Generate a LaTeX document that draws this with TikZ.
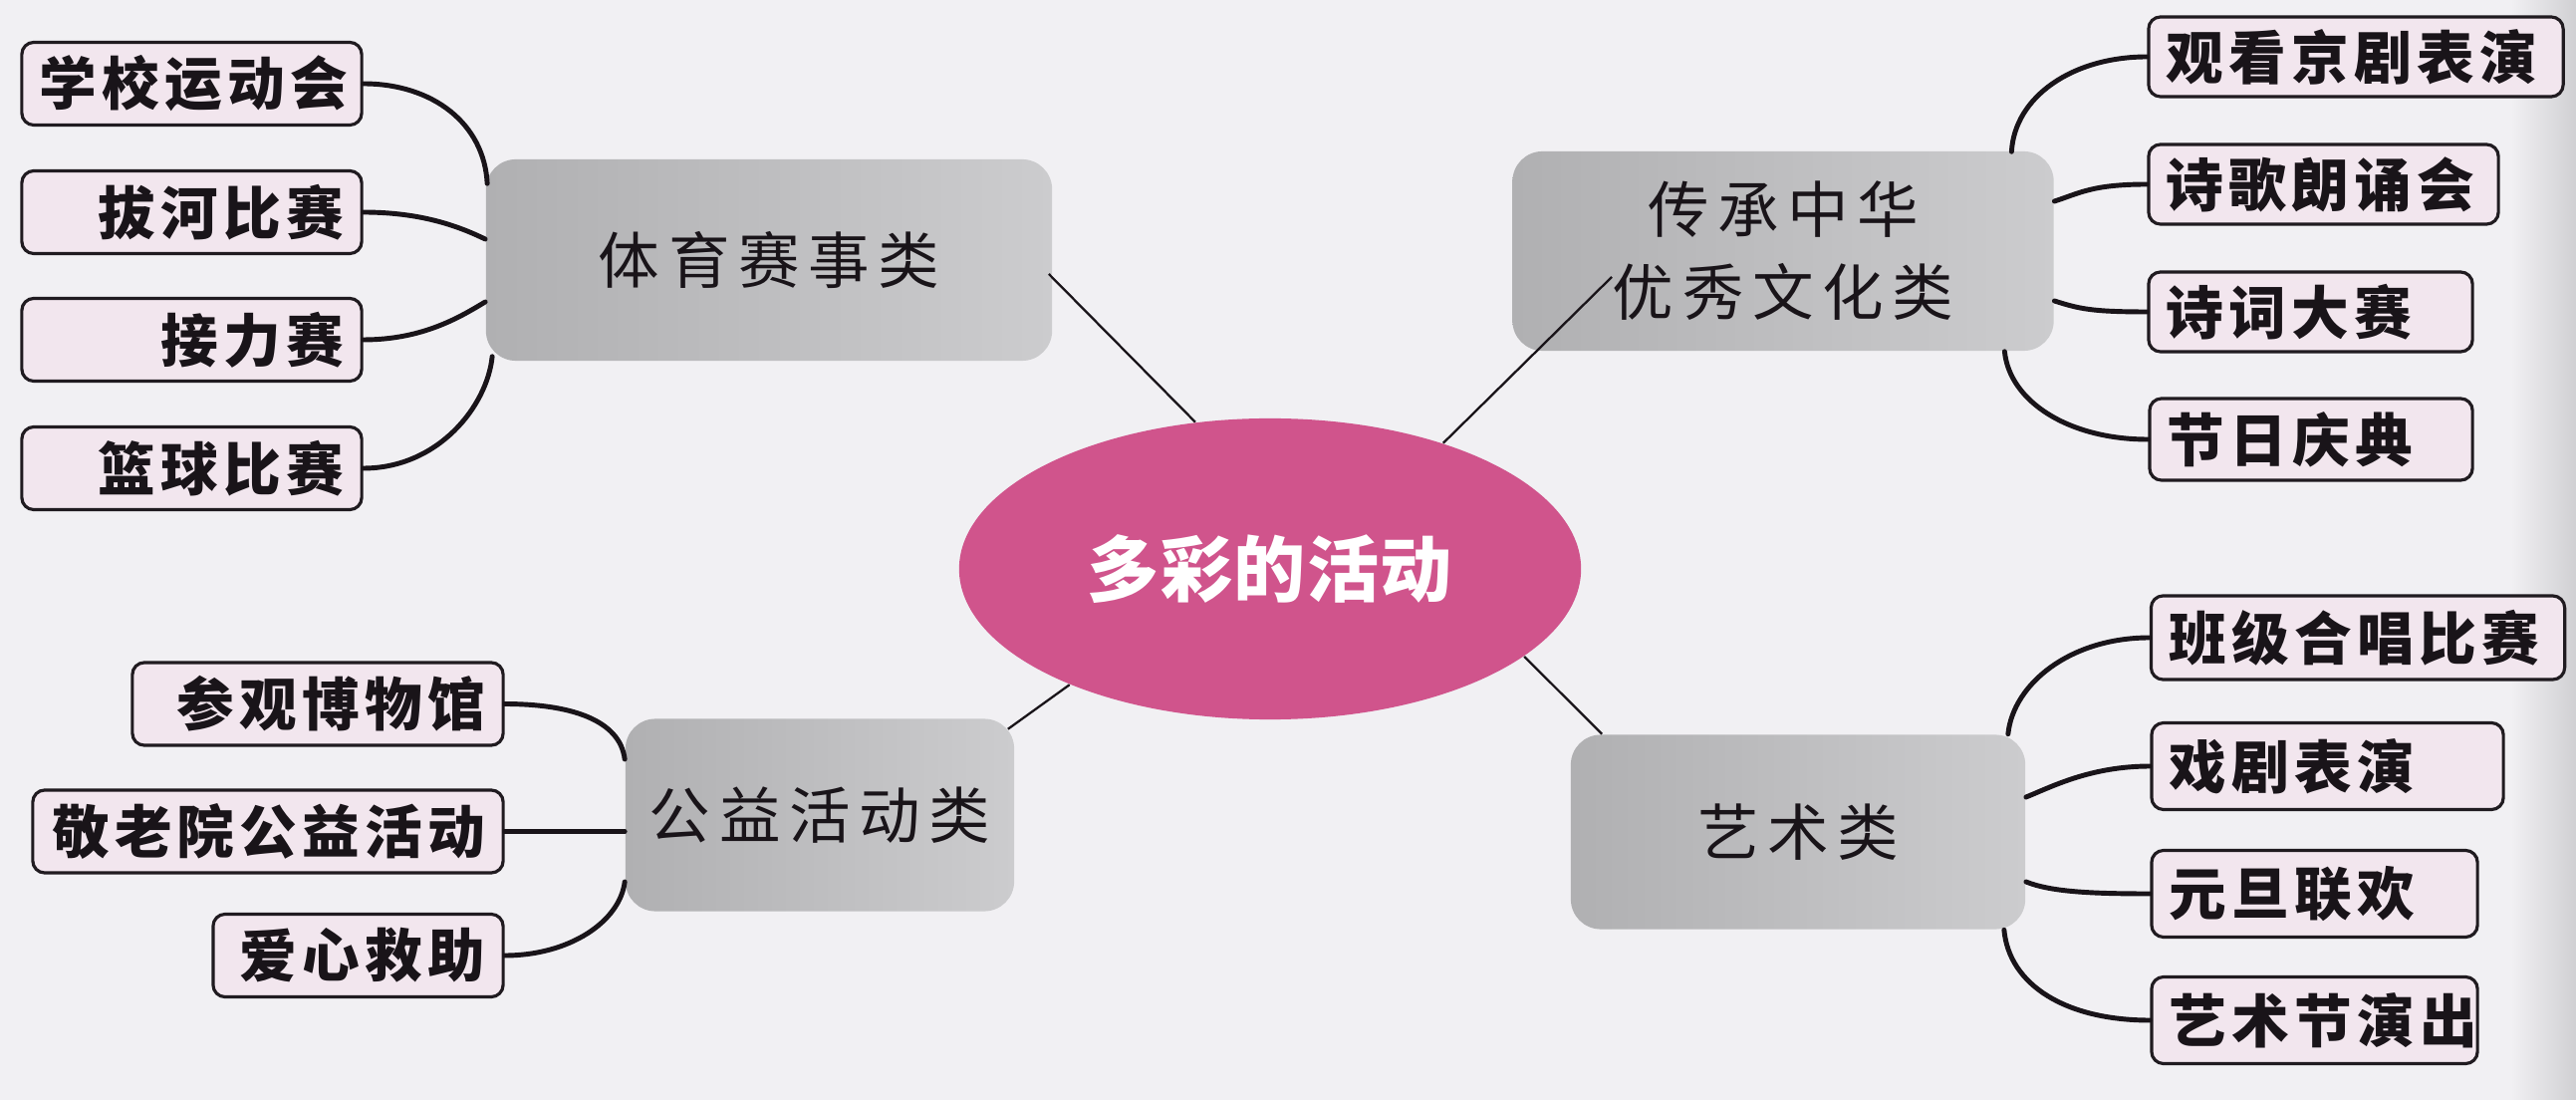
\documentclass[tikz,border=0pt]{standalone}
\usepackage{fontspec}
\newfontfamily\leaffont[LetterSpace=9]{Noto Sans CJK SC}
\newfontfamily\catfont[LetterSpace=14]{Noto Sans CJK SC}
\newfontfamily\hubfont[LetterSpace=2]{Noto Sans CJK SC}
\usetikzlibrary{shapes.geometric,calc}
\definecolor{bg}{RGB}{241,240,243}
\definecolor{bgedge}{RGB}{208,208,211}
\definecolor{leaffill}{RGB}{242,230,238}
\definecolor{leafline}{RGB}{32,27,32}
\definecolor{inkc}{RGB}{25,20,25}
\definecolor{catL}{RGB}{176,176,178}
\definecolor{catR}{RGB}{204,204,206}
\definecolor{hub}{RGB}{208,84,140}
\tikzset{
  leaf/.style={draw=leafline, line width=0.9pt, fill=leaffill, rounded corners=0.12cm,
    minimum height=0.83cm, inner xsep=0.18cm, inner ysep=0pt, text=inkc,
    font=\leaffont\bfseries\fontsize{16.4pt}{19pt}\selectfont},
  lleaf/.style={leaf, align=right, text width=#1},
  rleaf/.style={leaf, align=left, text width=#1},
  cat/.style={rounded corners=0.3cm, left color=catL, right color=catR, inner sep=0pt,
    align=center, text=inkc, font=\catfont\fontsize{17.5pt}{23.6pt}\selectfont},
  hubnode/.style={ellipse, fill=hub, inner sep=0pt, text=white,
    minimum width=6.24cm, minimum height=3.02cm,
    font=\hubfont\bfseries\fontsize{20.5pt}{24pt}\selectfont},
  link/.style={line width=1.4pt, line cap=round, draw=inkc},
  spoke/.style={line width=0.65pt, draw=inkc}
}
\begin{document}
\begin{tikzpicture}[x=0.01cm,y=-0.01cm]
\fill[bg] (0,0) rectangle (2586,1104);
\shade[left color=bg, right color=bgedge] (2520,0) rectangle (2586,1104);
\useasboundingbox (0,0) rectangle (2586,1104);

% hub
\node[hubnode] (E) at (1275,571) {多彩的活动};

% categories
\node[cat, minimum width=5.68cm, minimum height=2.02cm] (C1) at (772,261) {体育赛事类};
\node[cat, minimum width=5.43cm, minimum height=2.00cm] (C2) at (1790,252) {传承中华\\优秀文化类};
\node[cat, minimum width=3.90cm, minimum height=1.93cm] (C3) at (823,818) {公益活动类};
\node[cat, minimum width=4.56cm, minimum height=1.95cm] (C4) at (1805,835) {艺术类};

% left leaves (sports)
\node[lleaf=3.05cm] (L1) at (192.5,84) {学校运动会};
\node[lleaf=3.05cm] (L2) at (192.5,213) {拔河比赛};
\node[lleaf=3.05cm] (L3) at (192.5,341) {接力赛};
\node[lleaf=3.05cm] (L4) at (192.5,470) {篮球比赛};

% right leaves (culture)
\node[rleaf=3.80cm, minimum height=0.80cm] (R1) at (2365,57) {观看京剧表演};
\node[rleaf=3.15cm, minimum height=0.80cm] (R2) at (2332.5,185) {诗歌朗诵会};
\node[rleaf=2.89cm, minimum height=0.80cm] (R3) at (2319.5,313) {诗词大赛};
\node[rleaf=2.88cm, minimum height=0.82cm] (R4) at (2320,441) {节日庆典};

% left leaves (public welfare)
\node[lleaf=3.36cm] (P1) at (319,706.5) {参观博物馆};
\node[lleaf=4.36cm] (P2) at (269,834.5) {敬老院公益活动};
\node[lleaf=2.55cm] (P3) at (359.5,959) {爱心救助};

% right leaves (arts)
\node[rleaf=3.79cm, minimum height=0.84cm] (A1) at (2367,640) {班级合唱比赛};
\node[rleaf=3.17cm, minimum height=0.87cm] (A2) at (2336.5,769) {戏剧表演};
\node[rleaf=2.91cm, minimum height=0.87cm] (A3) at (2323.5,897) {元旦联欢};
\node[rleaf=2.91cm, minimum height=0.87cm] (A4) at (2323.5,1024) {艺术节演出};

% spokes to hub
\draw[spoke] ($(C1.east)+(-4,14)$) -- (E.117.3);
\draw[spoke] (E.36.9) -- ($(C2.center)+(-172,26)$);
\draw[spoke] (E.210.3) -- ($(C3.north east)+(-7,11)$);
\draw[spoke] (E.-19.4) -- ($(C4.north west)+(32,0)$);

% sports links
\draw[link] (L1.east) .. controls +(70,0) and +(-3,-60) .. ($(C1.north west)+(2,25)$);
\draw[link] (L2.east) .. controls +(60,0) and +(-25,-12) .. ($(C1.west)+(0,-21)$);
\draw[link] (L3.east) .. controls +(60,0) and +(-25,15) .. ($(C1.west)+(0,42)$);
\draw[link] (L4.east) .. controls +(75,0) and +(-5,50) .. ($(C1.south west)+(7,-5)$);

% culture links
\draw[link] (R1.west) .. controls +(-75,0) and +(3,-55) .. ($(C2.north east)+(-43,1)$);
\draw[link] (R2.west) .. controls +(-55,0) and +(25,-8) .. ($(C2.east)+(0,-50)$);
\draw[link] (R3.west) .. controls +(-55,0) and +(25,8) .. ($(C2.east)+(0,50)$);
\draw[link] (R4.west) .. controls +(-80,0) and +(5,50) .. ($(C2.south east)+(-50,0)$);

% welfare links
\draw[link] (P1.east) .. controls +(65,0) and +(-5,-40) .. ($(C3.west)+(0,-56)$);
\draw[link] (P2.east) -- (P2.east -| C3.west);
\draw[link] (P3.east) .. controls +(65,0) and +(-5,40) .. ($(C3.west)+(0,67)$);

% arts links
\draw[link] (A1.west) .. controls +(-80,0) and +(5,-50) .. ($(C4.north east)+(-18,0)$);
\draw[link] (A2.west) .. controls +(-60,0) and +(25,-10) .. ($(C4.east)+(0,-35)$);
\draw[link] (A3.west) .. controls +(-60,0) and +(25,10) .. ($(C4.east)+(0,50)$);
\draw[link] (A4.west) .. controls +(-85,0) and +(5,55) .. ($(C4.south east)+(-22,0)$);
\end{tikzpicture}
\end{document}
